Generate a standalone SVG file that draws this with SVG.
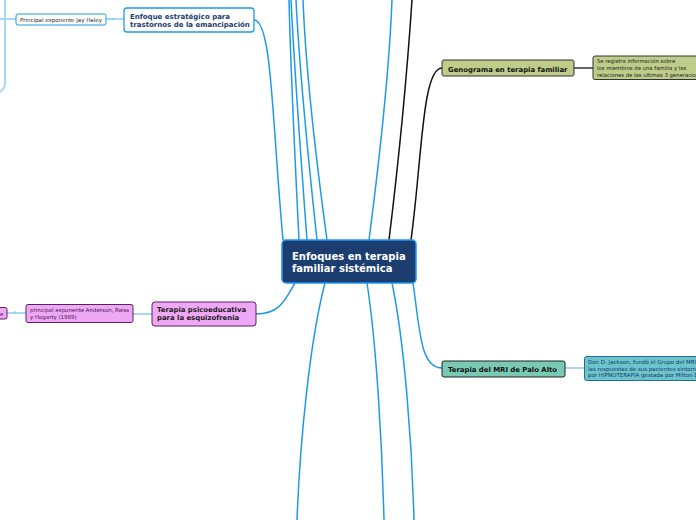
<svg xmlns="http://www.w3.org/2000/svg" width="696" height="520" viewBox="0 0 696 520">
<style>
text{font-family:"DejaVu Sans",Verdana,sans-serif}
.b{font-weight:bold}
.c{fill:none;stroke:#1e9be6;stroke-width:1.5}
.k{fill:none;stroke:#111;stroke-width:1.5}
.lt{fill:none;stroke:#a8d9f4;stroke-width:2}
</style>
<rect width="696" height="520" fill="#fff"/>
<g id="connectors">
<path class="c" d="M283,240 C272,120 272,20 254,20"/>
<path class="c" d="M299,240 C293,120 290,40 289,0"/>
<path class="c" d="M307,240 C298,120 293,40 291,0"/>
<path class="c" d="M317,240 C304,120 298,40 296,0"/>
<path class="c" d="M327,240 C312,130 305,50 303,0"/>
<path class="c" d="M369,240 C382,140 390,50 392,0"/>
<path class="k" d="M389,240 C400,150 408,60 412,0"/>
<path class="k" d="M411,240 C422,160 422,68 442,68"/>
<path class="c" d="M295,283 C285,300 280,314 256,314"/>
<path class="c" d="M325,283 C310,340 300,440 297,520"/>
<path class="c" d="M367,283 C376,340 382,440 384,520"/>
<path class="c" d="M392,283 C404,340 412,440 414,520"/>
<path class="c" d="M413,283 C420,330 420,368 442,368"/>
<path fill="none" stroke="#666" stroke-width="2" d="M574,68 H593"/>
<path class="lt" d="M565,368 H585"/>
<path class="lt" d="M133,314 H152"/>
<path class="lt" d="M7,313 H26"/>
<path class="lt" d="M106,19 H124"/>
<path class="lt" d="M0,19 H16"/>
<path class="lt" d="M5,0 V84 Q5,88 0,92"/>
<path fill="none" stroke="#7cc4ee" stroke-width="1" d="M112,19 h2 M14,312 h2"/>
</g>
<g id="center">
<rect x="282" y="240" width="134" height="43" rx="4" fill="#1b3d70" stroke="#2196f3" stroke-width="1.5"/>
<text class="b" x="292" y="260" font-size="10" fill="#fff">Enfoques en terapia</text>
<text class="b" x="292" y="272" font-size="10" fill="#fff">familiar sistémica</text>
</g>
<g id="estrategico">
<rect x="124" y="8" width="130" height="24" rx="3" fill="#fff" stroke="#1e9be6" stroke-width="1.3"/>
<text class="b" x="130" y="18.5" font-size="7" fill="#1b3d70">Enfoque estratégico para</text>
<text class="b" x="130" y="27" font-size="7" fill="#1b3d70">trastornos de la emancipación</text>
</g>
<g id="haley">
<rect x="16" y="14" width="90" height="11" rx="2" fill="#fff" stroke="#1e9be6" stroke-width="1"/>
<text x="20" y="21.7" font-size="5.5" fill="#2a2a2a">Principal exponente Jay Haley</text>
</g>
<g id="genograma">
<rect x="442" y="60" width="132" height="16" rx="2" fill="#bfcc8a" stroke="#333" stroke-width="1"/>
<text class="b" x="448" y="71.7" font-size="6.9" fill="#111">Genograma en terapia familiar</text>
</g>
<g id="genograma-nota">
<rect x="593" y="56" width="110" height="23.5" rx="2" fill="#bfcc8a" stroke="#333" stroke-width="1"/>
<text x="597" y="63" font-size="5.3" fill="#1a1a1a">Se registra información sobre</text>
<text x="597" y="70" font-size="5.3" fill="#1a1a1a">los miembros de una familia y las</text>
<text x="597" y="76.5" font-size="5.3" fill="#1a1a1a">relaciones de las ultimas 3 generaciones</text>
</g>
<g id="mri">
<rect x="442" y="361" width="123" height="16" rx="2" fill="#79c9b4" stroke="#222" stroke-width="1"/>
<text class="b" x="448" y="371.7" font-size="6.9" fill="#111">Terapia del MRI de Palo Alto</text>
</g>
<g id="mri-nota">
<rect x="584.5" y="356.5" width="120" height="24" rx="2" fill="#6cc4cc" stroke="#2a6a9a" stroke-width="1"/>
<text x="588" y="364.3" font-size="5.5" fill="#163a68">Don D. Jackson, fundó el Grupo del MRI</text>
<text x="588" y="370.8" font-size="5.5" fill="#163a68">las respuestas de sus pacientes sintomáticos</text>
<text x="588" y="377.2" font-size="5.5" fill="#163a68">por HIPNOTERAPIA gestada por Milton Erickson</text>
</g>
<g id="psicoeducativa">
<rect x="152" y="302" width="104" height="24" rx="3" fill="#efa8f5" stroke="#5a2060" stroke-width="1"/>
<text class="b" x="157" y="311.7" font-size="6.9" fill="#1a1a1a">Terapia psicoeducativa</text>
<text class="b" x="157" y="320.3" font-size="6.9" fill="#1a1a1a">para la esquizofrenia</text>
</g>
<g id="anderson">
<rect x="26" y="304.5" width="107" height="18" rx="2" fill="#efa8f5" stroke="#5a2060" stroke-width="1"/>
<text x="30" y="311.5" font-size="5.45" fill="#44164f">principal exponente Anderson, Reiss</text>
<text x="30" y="318.5" font-size="5.45" fill="#44164f">y Hogarty (1989)</text>
</g>
<g id="izquierda">
<rect x="-6" y="307.5" width="13" height="11.5" rx="2" fill="#efa8f5" stroke="#5a2060" stroke-width="1"/>
<text x="0" y="315.5" font-size="5.3" fill="#44164f">e</text>
</g>
</svg>
